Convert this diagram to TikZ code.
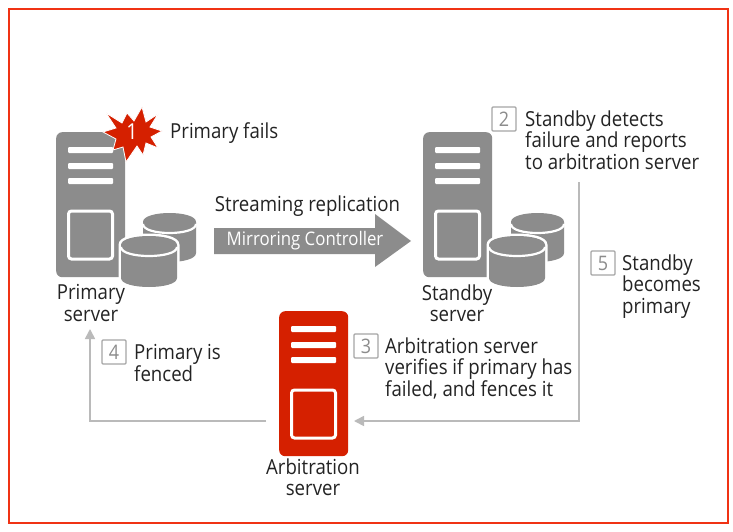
\documentclass[tikz,border=0pt]{standalone}
\usepackage{fontspec}
\setmainfont[FakeStretch=0.9]{Open Sans}
\usetikzlibrary{arrows.meta,calc}
\definecolor{fjred}{RGB}{213,32,0}
\definecolor{srv}{RGB}{140,140,140}
\definecolor{conn}{RGB}{186,186,186}
\definecolor{boxc}{RGB}{165,165,165}
\definecolor{ink}{RGB}{35,35,35}
\tikzset{
 x=1pt,y=-1pt,
 lbl/.style={font=\fontsize{20.7}{21.3}\selectfont,text=ink,align=left,anchor=north west,inner sep=0pt},
 clbl/.style={font=\fontsize{20.7}{21.3}\selectfont,text=ink,align=center,inner sep=0pt},
 numbox/.style={draw=boxc,line width=1.2pt,fill=white,rounded corners=1pt,minimum width=24pt,minimum height=24pt,inner sep=0pt,text=srv,font=\fontsize{20}{20}\selectfont},
 flow/.style={draw=conn,line width=1.6pt,-{Triangle[length=10pt,width=10pt]}},
}
% server: #1 left x, #2 top y, #3 colour, #4 name
\newcommand{\serverbox}[4]{%
 \node[fill=#3,rounded corners=6pt,minimum width=69pt,minimum height=145pt,inner sep=0pt,anchor=north west] (#4) at (#1,#2) {};
 \foreach \yy in {15,31,46}{
  \fill[white,rounded corners=1pt] (#1+12,#2+\yy) rectangle (#1+57,#2+\yy+6);
 }
 \draw[white,line width=3pt,rounded corners=3pt] (#1+12.5,#2+79) rectangle (#1+56.5,#2+127);
}
% cylinder: #1 left, #2 right, #3 top, #4 bottom
\newcommand{\cylinder}[4]{%
 \path[fill=srv,preaction={draw=white,line width=5pt}]
   (#1,#3+9) .. controls (#1,#3-3) and (#2,#3-3) .. (#2,#3+9)
   -- (#2,#4-9) .. controls (#2,#4+3) and (#1,#4+3) .. (#1,#4-9) -- cycle;
 \draw[white,line width=2.2pt] (#1,#3+11) .. controls (#1,#3+23) and (#2,#3+23) .. (#2,#3+11);
}
\begin{document}
\begin{tikzpicture}
\useasboundingbox (0,0) rectangle (733,532);
\fill[white] (0,0) rectangle (733,532);
\draw[draw={rgb,255:red,240;green,50;blue,20},line width=2.5pt] (9,9) rectangle (728,523);

% connectors
\coordinate (c2) at (579,182);
\coordinate (c3) at (579,421);
\coordinate (c4) at (266,421);
\coordinate (c5) at (90,421);
\coordinate (c6) at (90,329);
\coordinate (c7) at (354,421);
\draw[flow] (c2) -- (c3) -- (c7);
\draw[flow] (c4) -- (c5) -- (c6);

% primary
\serverbox{56}{132}{srv}{primary}
\cylinder{143}{196}{213}{262}
\cylinder{121}{177}{236}{287}
% standby
\serverbox{423}{132}{srv}{standby}
\cylinder{511}{564}{213}{262}
\cylinder{489}{545}{236}{287}
% arbitration
\serverbox{279}{311}{fjred}{arb}

% burst
\fill[fjred,draw=white,line width=0.8pt,line join=miter] (142,107)--(146,122)--(158,114)--(150,127)--(162,131)--(151,137)--(158,148)--(146,143)--(143,155)--(137,146)--(126,162)--(123,147)--(113,150)--(116,139)--(103,132)--(116,128)--(106,113)--(122,123)--(127,113)--(134,121)--cycle;
\node[text=white,font=\fontsize{22}{22}\selectfont,inner sep=0pt] (one) at (132,132) {1};

% main arrow
\node[inner sep=0pt,minimum size=0pt] (arrowstart) at (214,241) {};
\node[inner sep=0pt,minimum size=0pt] (arrowtip) at (411,241) {};
\fill[srv] (arrowstart.center) ++(0,-13) -- (375,228) -- (375,214) -- (arrowtip.center) -- (375,267) -- (375,254) -- (214,254) -- cycle;
\node[text=white,font=\fontsize{18.7}{19}\selectfont,inner sep=0pt] (mc) at (305,241) {Mirroring Controller};

% labels
\node[lbl,anchor=west] (tfail) at (170,133) {Primary fails};
\node[clbl,anchor=center] (tsr) at (307.5,206) {Streaming replication};
\node[clbl] (tp) at (91,303) {Primary\\server};
\node[clbl] (ts) at (457,303) {Standby\\server};
\node[clbl] (ta) at (313,477.5) {Arbitration\\server};

\node[numbox] (n2) at (504,119) {2};
\node[lbl] (t2) at (525,110.5) {Standby detects\\failure and reports\\to arbitration server};
\node[numbox] (n5) at (603,263) {5};
\node[lbl] (t5) at (622,254.5) {Standby\\becomes\\primary};
\node[numbox] (n3) at (366,346) {3};
\node[lbl] (t3) at (385,337.5) {Arbitration server\\verifies if primary has\\failed, and fences it};
\node[numbox] (n4) at (114,352) {4};
\node[lbl] (t4) at (134,344.5) {Primary is\\fenced};
\end{tikzpicture}
\end{document}
